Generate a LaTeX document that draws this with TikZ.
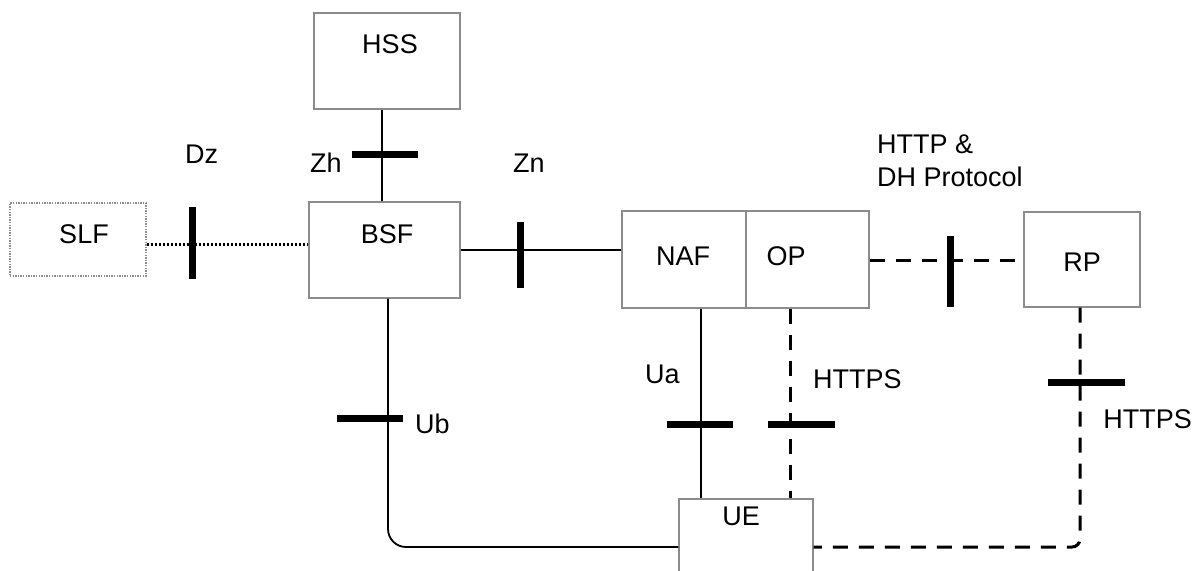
\documentclass[tikz,border=0pt]{standalone}
\usepackage{fontspec}
\setmainfont{Liberation Sans}
\definecolor{boxgray}{RGB}{140,140,140}
\begin{document}
\begin{tikzpicture}[x=1pt,y=-1pt,
  box/.style={draw=boxgray,line width=1.4pt,minimum width=#1,inner sep=0pt},
  txt/.style={inner sep=0pt,font=\fontsize{27}{32}\selectfont},
  link/.style={line width=1.8pt,black},
  dlink/.style={line width=3pt,black,dash pattern=on 15pt off 11pt},
  dotlink/.style={line width=3pt,black,dash pattern=on 2.5pt off 1.5pt},
  tick/.style={line width=7pt,black}]
\useasboundingbox (0,0) rectangle (1193,570);
\clip (0,0) rectangle (1193,570);
% boxes
\node[box=146pt,minimum height=96pt] (hss) at (387,61) {};
\node[box=151pt,minimum height=96pt] (bsf) at (384.5,250) {};
\node[box=136pt,minimum height=73pt,draw=boxgray,dash pattern=on 1.4pt off 1.2pt] (slf) at (78,239.5) {};
\node[box=124pt,minimum height=97pt] (naf) at (684,259.5) {};
\node[box=123pt,minimum height=97pt] (op) at (807.5,259.5) {};
\node[box=116pt,minimum height=95pt] (rp) at (1082,259.5) {};
\node[box=134pt,minimum height=100pt] (ue) at (746,549) {};
% box texts
\node[txt,anchor=base] (hsst) at (390,53) {HSS};
\node[txt,anchor=base] (bsft) at (387,243) {BSF};
\node[txt,anchor=base] (slft) at (84,243) {SLF};
\node[txt,anchor=base] (naft) at (683,265) {NAF};
\node[txt,anchor=base] (opt) at (786,265) {OP};
\node[txt,anchor=base] (rpt) at (1082,271) {RP};
\node[txt,anchor=base] (uet) at (741,525) {UE};
% interface labels
\node[txt,anchor=base west] (dzl) at (185,163) {Dz};
\node[txt,anchor=base west] (zhl) at (310,172) {Zh};
\node[txt,anchor=base west] (znl) at (513,172) {Zn};
\node[txt,anchor=base west] (httpl) at (877,153) {HTTP \&};
\node[txt,anchor=base west] (dhl) at (877,186) {DH Protocol};
\node[txt,anchor=base west] (ual) at (645,383) {Ua};
\node[txt,anchor=base west] (https1) at (813,388) {HTTPS};
\node[txt,anchor=base west] (ubl) at (415,433) {Ub};
\node[txt,anchor=base east] (https2) at (1192,428) {HTTPS};
% reference coordinates
\coordinate (zh) at (382,154);
\coordinate (dz) at (192,244);
\coordinate (zn) at (520,250);
\coordinate (dh) at (950,260);
\coordinate (ua) at (701,424);
\coordinate (hs) at (790,424);
\coordinate (rpx) at (1080,382);
\coordinate (ub) at (388,418);
\coordinate (bot) at (0,547);
% connectors
\draw[link] (zh |- hss.south) -- (zh |- bsf.north);
\draw[dotlink] (slf.east |- dz) -- (bsf.west |- dz);
\draw[link] (bsf.east |- zn) -- (naf.west |- zn);
\draw[dlink] (op.east |- dh) -- (rp.west |- dh);
\draw[link] (ua |- naf.south) -- (ua |- ue.north);
\draw[dlink] (hs |- op.south) -- (hs |- ue.north);
\draw[dlink,rounded corners=8pt] (rpx |- rp.south) -- (rpx |- bot) -- (ue.east |- bot);
\draw[link,rounded corners=18pt] (ub |- bsf.south) -- (ub |- bot) -- (ue.west |- bot);
% ticks
\draw[tick] (352,154) -- (418,154);
\draw[tick] (192,207) -- (192,279);
\draw[tick] (520,222) -- (520,288);
\draw[tick] (950,236) -- (950,307);
\draw[tick] (667,424) -- (733,424);
\draw[tick] (768,424) -- (835,424);
\draw[tick] (1048,382) -- (1125,382);
\draw[tick] (337,418) -- (403,418);
\end{tikzpicture}
\end{document}
